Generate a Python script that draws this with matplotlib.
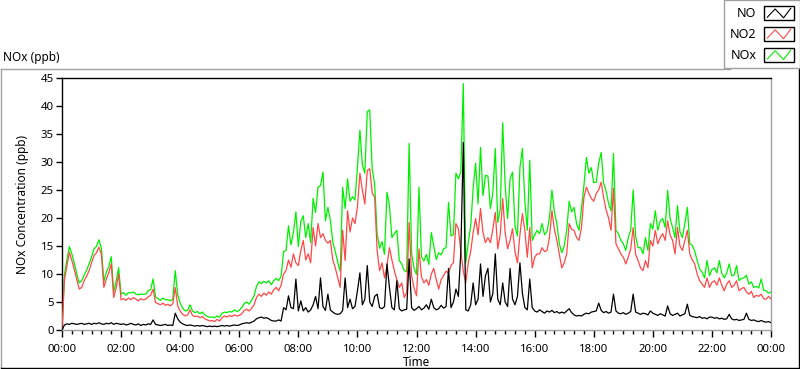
import numpy as np
import matplotlib
matplotlib.use("Agg")
import matplotlib.pyplot as plt
from matplotlib.lines import Line2D
from matplotlib.patches import Rectangle
from matplotlib.legend_handler import HandlerBase
from matplotlib.ticker import MultipleLocator

plt.rcParams['font.family'] = ['Noto Sans', 'DejaVu Sans']

# 5 minute readings, one row per hour, last value is 24:00
no2 = [
    0.2, 9.0, 11.5, 13.9, 12.4, 10.8, 9.0, 7.3, 7.6, 8.8, 9.6, 10.6,
    12.0, 13.3, 13.8, 14.8, 13.5, 7.6, 9.1, 10.2, 11.8, 5.8, 7.5, 10.0,
    5.4, 5.6, 5.3, 5.7, 5.4, 5.8, 5.5, 5.2, 5.6, 5.4, 5.5, 5.9,
    6.2, 7.3, 4.9, 4.7, 4.5, 4.8, 4.4, 4.6, 4.3, 4.7, 7.6, 4.3,
    3.4, 2.8, 2.5, 2.7, 3.6, 2.6, 2.4, 2.5, 2.2, 2.4, 2.0, 1.8,
    1.6, 1.7, 1.5, 1.9, 1.6, 2.2, 2.5, 2.3, 2.6, 2.4, 2.7, 2.5,
    2.6, 2.9, 3.5, 3.7, 3.4, 3.9, 4.5, 5.8, 6.4, 6.0, 6.6, 6.2,
    6.8, 6.4, 7.2, 7.6, 7.0, 8.0, 10.0, 10.6, 12.5, 11.2, 13.6, 12.0,
    11.5, 14.2, 16.0, 12.5, 13.6, 12.0, 18.3, 15.0, 19.0, 16.5, 17.2, 16.0,
    15.5, 16.0, 12.5, 11.1, 9.3, 7.6, 17.8, 12.4, 21.3, 17.5, 20.0, 19.0,
    22.0, 28.0, 25.0, 22.5, 28.5, 28.8, 24.5, 23.7, 14.2, 10.6, 12.0, 9.3,
    11.5, 14.7, 12.5, 10.6, 9.0, 7.6, 8.4, 5.8, 6.7, 19.2, 9.7, 7.5,
    6.1, 14.5, 9.5, 8.4, 9.0, 8.0, 10.0, 11.0, 9.0, 7.3, 9.0, 9.7,
    10.5, 10.2, 11.5, 12.0, 19.0, 18.1, 14.0, 10.5, 8.4, 12.0, 14.0, 17.4,
    19.9, 17.0, 21.7, 17.4, 15.6, 16.5, 15.6, 18.0, 21.0, 14.5, 17.0, 23.5,
    17.4, 14.5, 16.0, 18.1, 14.0, 12.0, 17.0, 20.8, 17.8, 13.0, 18.3, 11.1,
    13.0, 13.6, 13.6, 14.7, 14.0, 14.2, 16.5, 21.3, 18.0, 16.0, 13.6, 11.1,
    12.0, 13.6, 19.0, 18.0, 17.8, 16.5, 16.0, 18.3, 23.7, 25.5, 24.4, 23.5,
    23.0, 24.4, 25.0, 26.4, 23.7, 21.5, 20.0, 17.8, 25.3, 15.4, 14.5, 13.6,
    13.0, 11.8, 13.0, 14.5, 18.3, 13.5, 12.4, 11.1, 10.6, 12.4, 11.1, 16.0,
    15.0, 17.8, 15.4, 16.5, 17.2, 16.0, 19.5, 17.0, 16.0, 13.6, 18.3, 15.0,
    14.2, 16.0, 17.8, 13.6, 12.5, 11.8, 10.0, 8.8, 8.2, 7.6, 9.3, 7.6,
    8.5, 8.8, 8.0, 9.3, 8.0, 7.0, 8.2, 8.8, 7.6, 8.0, 8.8, 7.0,
    7.4, 7.6, 6.8, 6.4, 6.9, 5.8, 6.2, 6.0, 6.4, 5.6, 5.5, 6.0,
    5.5,
]

no = [
    0.0, 0.9, 1.1, 1.0, 1.2, 1.1, 1.0, 1.1, 1.2, 1.0, 1.1, 1.2,
    1.0, 1.2, 1.1, 1.3, 1.1, 1.0, 1.2, 1.1, 1.3, 1.0, 1.2, 1.1,
    1.0, 1.1, 0.9, 1.0, 1.2, 1.0, 0.9, 1.1, 0.8, 1.0, 0.9, 1.1,
    1.0, 1.8, 1.0, 0.9, 0.8, 0.9, 1.0, 0.8, 0.9, 0.8, 3.0, 2.0,
    1.4, 1.1, 0.9, 0.8, 0.9, 0.8, 0.7, 0.8, 0.7, 0.8, 0.7, 0.6,
    0.7, 0.6, 0.7, 0.6, 0.7, 0.8, 0.7, 0.8, 0.7, 0.8, 0.9, 0.8,
    0.9, 1.1, 1.2, 1.3, 1.2, 1.4, 1.6, 2.0, 2.2, 2.3, 2.1, 2.2,
    2.0, 1.7, 1.6, 1.6, 1.8, 1.6, 4.0, 3.6, 6.1, 4.0, 3.8, 9.1,
    3.4, 5.2, 3.4, 4.0, 3.2, 3.6, 4.5, 6.0, 3.8, 9.3, 4.2, 3.5,
    6.4, 3.6, 3.2, 2.9, 2.8, 2.9, 3.5, 9.3, 4.0, 5.5, 3.8, 4.2,
    7.0, 10.2, 4.5, 5.5, 11.5, 5.0, 4.2, 6.0, 6.4, 4.0, 3.8, 4.2,
    11.8, 7.6, 4.0, 3.6, 8.8, 3.8, 3.4, 3.6, 3.7, 12.7, 4.0, 3.5,
    3.8, 4.2, 3.6, 3.9, 4.5, 3.7, 5.5, 4.0, 3.6, 3.8, 4.4, 3.9,
    4.2, 11.0, 4.0, 5.0, 7.3, 6.0, 14.0, 33.5, 3.6, 3.4, 4.5, 8.4,
    4.5, 5.5, 11.8, 6.0, 9.7, 11.0, 5.0, 6.5, 13.6, 5.5, 4.5, 8.4,
    5.0, 4.2, 11.0, 5.5, 4.5, 6.0, 12.0, 6.6, 4.0, 3.6, 9.1, 4.0,
    3.4, 3.2, 3.6, 3.3, 3.0, 3.4, 3.2, 3.5, 3.1, 3.3, 3.0, 3.2,
    3.0, 3.4, 3.8, 3.1, 2.7, 2.5, 2.6, 2.5, 2.8, 3.0, 2.9, 3.2,
    3.3, 3.4, 4.8, 3.5, 3.1, 3.3, 3.0, 3.2, 6.4, 3.4, 3.0, 2.9,
    3.1, 2.8, 3.0, 3.3, 6.4, 3.2, 3.0, 2.8, 3.0, 2.9, 2.7, 3.4,
    3.0, 2.8, 2.6, 2.9, 2.7, 2.5, 4.3, 2.9, 2.6, 2.8, 3.0, 2.5,
    2.7, 2.9, 4.6, 2.6, 2.4, 2.3, 2.2, 2.4, 2.1, 2.2, 2.0, 2.3,
    2.3, 2.1, 2.2, 2.0, 2.1, 1.9, 2.0, 2.8, 2.0, 1.8, 1.9, 1.7,
    1.8, 1.9, 3.0, 1.9, 1.7, 1.8, 1.6, 1.5, 1.7, 1.5, 1.4, 1.5,
    1.3,
]

nox = [
    0.2, 9.9, 12.6, 14.9, 13.6, 11.9, 10.0, 8.4, 8.8, 9.8, 10.7, 11.8,
    13.0, 14.5, 14.9, 16.1, 14.6, 8.6, 10.3, 11.3, 13.1, 6.8, 8.7, 11.1,
    6.4, 6.7, 6.2, 6.7, 6.6, 6.8, 6.4, 6.3, 6.4, 6.4, 6.4, 7.0,
    7.2, 9.1, 5.9, 5.6, 5.3, 5.7, 5.4, 5.4, 5.2, 5.5, 10.6, 6.3,
    4.8, 3.9, 3.4, 3.5, 4.5, 3.4, 3.1, 3.3, 2.9, 3.2, 2.7, 2.4,
    2.3, 2.3, 2.2, 2.5, 2.3, 3.0, 3.2, 3.1, 3.3, 3.2, 3.6, 3.3,
    3.5, 4.0, 4.7, 5.0, 4.6, 5.3, 6.1, 7.8, 8.6, 8.3, 8.7, 8.4,
    8.8, 8.1, 8.8, 9.2, 8.8, 9.6, 14.0, 14.2, 18.6, 15.2, 17.4, 21.1,
    14.9, 19.4, 20.4, 16.5, 19.0, 15.6, 23.5, 21.0, 25.5, 25.8, 28.2, 19.5,
    21.9, 19.6, 15.7, 14.0, 12.1, 10.5, 25.5, 21.7, 27.0, 23.0, 23.8, 23.2,
    29.0, 35.7, 29.5, 28.0, 39.0, 39.3, 28.7, 26.0, 17.2, 14.6, 15.8, 13.5,
    24.6, 22.3, 16.5, 17.2, 17.8, 12.4, 11.8, 10.6, 10.4, 33.3, 13.7, 11.0,
    9.9, 25.5, 13.1, 12.3, 13.5, 11.7, 17.4, 15.0, 12.6, 13.8, 13.4, 14.5,
    14.7, 22.8, 16.8, 17.0, 28.0, 27.0, 28.2, 44.0, 12.0, 15.6, 18.5, 25.3,
    29.8, 22.5, 32.6, 24.0, 27.6, 27.5, 21.7, 24.5, 32.4, 19.2, 21.5, 37.0,
    25.8, 19.9, 27.0, 28.2, 18.5, 16.8, 29.0, 32.4, 23.0, 17.8, 30.3, 16.0,
    17.0, 17.8, 17.2, 19.0, 17.0, 17.6, 20.0, 25.0, 21.1, 19.0, 15.4, 13.8,
    15.0, 17.8, 23.0, 21.1, 21.9, 19.0, 17.8, 21.7, 25.8, 30.8, 28.0, 29.0,
    26.3, 26.4, 29.8, 31.7, 26.2, 24.8, 22.6, 21.3, 31.5, 17.8, 17.2, 16.0,
    15.4, 14.2, 16.5, 17.8, 25.0, 16.7, 14.7, 14.7, 13.6, 16.5, 14.2, 19.0,
    18.0, 21.3, 17.8, 19.5, 19.9, 18.3, 24.9, 19.9, 18.3, 16.5, 22.2, 17.5,
    16.5, 19.0, 21.9, 15.4, 15.1, 14.1, 12.4, 10.9, 10.3, 9.3, 12.4, 9.7,
    10.8, 11.1, 10.2, 12.4, 10.1, 9.3, 10.2, 11.8, 9.7, 9.8, 11.5, 8.8,
    9.2, 9.3, 9.8, 8.2, 8.6, 7.6, 7.8, 7.5, 9.1, 7.1, 7.0, 6.6,
    6.8,
]

hour_labels = ["00:00", "02:00", "04:00", "06:00", "08:00", "10:00", "12:00",
               "14:00", "16:00", "18:00", "20:00", "22:00", "00:00"]

hours = np.arange(len(no)) / 12.0  # sample time in hours


class ZigZag(HandlerBase):
    # legend swatch: black box with a little zigzag of the plot colour
    def create_artists(self, legend, orig_handle, xdescent, ydescent,
                       width, height, fontsize, trans):
        x0, y0 = -xdescent, -ydescent
        box = Rectangle((x0, y0), width, height, fill=False,
                        edgecolor='black', lw=1.0, transform=trans)
        fx = [0.12, 0.38, 0.66, 0.9]
        fy = [0.2, 0.8, 0.15, 0.85]
        zz = Line2D([x0 + f * width for f in fx], [y0 + f * height for f in fy],
                    color=orig_handle.get_color(), lw=0.8, transform=trans)
        return [box, zz]


fig = plt.figure(figsize=(8, 3.69), dpi=100)
ax = fig.add_axes([0.0775, 0.1057, 0.8863, 0.6829])

l_nox, = ax.plot(hours, nox, color='#00f000', lw=0.9, label='NOx', zorder=2)
l_no2, = ax.plot(hours, no2, color='#ff4848', lw=0.9, label='NO2', zorder=3)
l_no, = ax.plot(hours, no, color='black', lw=0.9, label='NO', zorder=4)

ax.set_xlim(0, 24)
ax.set_ylim(0, 45)
ax.set_xticks(np.arange(0, 25, 2))
ax.set_xticklabels(hour_labels)
ax.xaxis.set_minor_locator(MultipleLocator(1 / 3))
ax.set_yticks(np.arange(0, 46, 5))
ax.tick_params(axis='both', labelsize=8.2, colors='black', direction='out')
ax.tick_params(axis='x', which='major', length=5, width=1, pad=5)
ax.tick_params(axis='x', which='minor', length=3, width=1)
ax.tick_params(axis='y', length=4, width=1, pad=2)

ax.spines['top'].set_color('black')
ax.spines['left'].set_color('black')
ax.spines['bottom'].set_color('#a0a0a0')
ax.spines['right'].set_color('#a0a0a0')
for s in ax.spines.values():
    s.set_linewidth(1.0)

ax.set_xlabel("Time", fontsize=8.5, labelpad=1)
ax.set_ylabel("NOx Concentration (ppb)", fontsize=8.5, labelpad=8)

fig.text(0.004, 0.845, "NOx (ppb)", fontsize=8.5, ha='left', va='center')

# outer frame of the graph control
fig.add_artist(Line2D([0.0015, 0.0015], [0.005, 0.813], color='#a0a0a0', lw=1))
fig.add_artist(Line2D([0.0015, 0.913], [0.813, 0.813], color='#a0a0a0', lw=1))
fig.add_artist(Line2D([0.0015, 0.999], [0.003, 0.003], color='black', lw=1))
fig.add_artist(Line2D([0.999, 0.999], [0.003, 1.0], color='black', lw=1))

leg = fig.legend(handles=[l_no, l_no2, l_nox], labels=['NO', 'NO2', 'NOx'],
                 handler_map={Line2D: ZigZag()}, loc='upper right',
                 bbox_to_anchor=(1.0, 1.0), borderaxespad=0, markerfirst=False,
                 fontsize=9, handlelength=2.4, handleheight=1.3,
                 labelspacing=0.55, handletextpad=0.6, borderpad=0.5,
                 fancybox=False, framealpha=1)
leg.get_frame().set_edgecolor('#a0a0a0')
leg.get_frame().set_linewidth(1.0)

fig.savefig("out.png", dpi=100)
